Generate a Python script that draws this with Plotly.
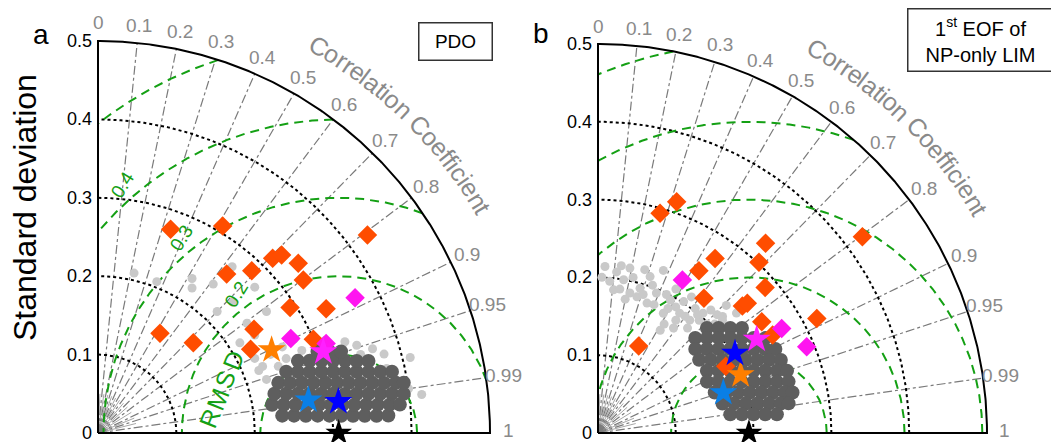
import numpy as np
import plotly.graph_objects as go

# ------------------------------------------------------------------ data
CORR_TICKS = [0, 0.1, 0.2, 0.3, 0.4, 0.5, 0.6, 0.7, 0.8, 0.9, 0.95, 0.99, 1]
CORR_TICK_TEXT = ["0", "0.1", "0.2", "0.3", "0.4", "0.5", "0.6", "0.7", "0.8",
                  "0.9", "0.95", "0.99", "1"]
CORR_LINES = [0.1, 0.2, 0.3, 0.4, 0.5, 0.6, 0.7, 0.8, 0.9, 0.95, 0.99]
CORR_MINOR = [0.05, 0.15, 0.25, 0.35, 0.45, 0.55, 0.65, 0.75, 0.85, 0.925, 0.97]
STD_TICKS = [0, 0.1, 0.2, 0.3, 0.4, 0.5]
STD_TICK_TEXT = ["0", "0.1", "0.2", "0.3", "0.4", "0.5"]
STD_CIRCLES = [0.1, 0.2, 0.3, 0.4]
STD_MAX = 0.5
RMSD_LEVELS = [0.1, 0.2, 0.3, 0.4, 0.5]
RMSD_LABELS = ["0.2", "0.3", "0.4"]
RMSD_LABEL_LEVELS = [0.2, 0.3, 0.4]

# ---- panel a (PDO)
A_REF_STD = 0.307
A_DIA_STD = [0.2758, 0.3082, 0.4264, 0.3151, 0.3262, 0.3348, 0.3265, 0.2609,
             0.2851, 0.2927, 0.3314, 0.1497, 0.1675, 0.2389, 0.2220, 0.2995]
A_DIA_CORR = [0.336, 0.516, 0.806, 0.707, 0.718, 0.763, 0.802, 0.629,
              0.688, 0.837, 0.878, 0.528, 0.726, 0.833, 0.877, 0.917]
A_MAG_STD = [0.3705, 0.2739, 0.3125]
A_MAG_CORR = [0.885, 0.898, 0.931]
# stars: orange, light blue, blue, magenta
A_STAR_STD = [0.2455, 0.2716, 0.3092, 0.3055]
A_STAR_CORR = [0.902, 0.988, 0.9916, 0.9407]
A_DARK_STD = [0.236, 0.251, 0.266, 0.281, 0.296, 0.311, 0.326, 0.341, 0.356, 0.371,
              0.2249, 0.2397, 0.2546, 0.2694, 0.2843, 0.2992, 0.3141, 0.3290, 0.3439, 0.3588, 0.3737, 0.3867,
              0.2305, 0.2452, 0.2599, 0.2746, 0.2894, 0.3041, 0.3189, 0.3338, 0.3486, 0.3635, 0.3783, 0.3932,
              0.2387, 0.2532, 0.2678, 0.2823, 0.2970, 0.3116, 0.3263, 0.3410, 0.3558, 0.3705, 0.3854, 0.3952,
              0.2524, 0.2667, 0.2810, 0.2955, 0.3100, 0.3245, 0.3391, 0.3537, 0.3684, 0.3830,
              0.2711, 0.2853, 0.2995, 0.3138, 0.3282, 0.3425, 0.3570,
              0.2987, 0.3128, 0.3270]
A_DARK_CORR = [0.9956, 0.9961, 0.9966, 0.9969, 0.9972, 0.9975, 0.9977, 0.9979, 0.9981, 0.9982,
               0.9871, 0.9886, 0.9899, 0.9910, 0.9920, 0.9928, 0.9934, 0.9940, 0.9945, 0.9949, 0.9953, 0.9956,
               0.9762, 0.9790, 0.9813, 0.9833, 0.9849, 0.9864, 0.9877, 0.9887, 0.9897, 0.9905, 0.9912, 0.9919,
               0.9634, 0.9676, 0.9710, 0.9740, 0.9765, 0.9787, 0.9806, 0.9823, 0.9837, 0.9850, 0.9861, 0.9868,
               0.9510, 0.9563, 0.9607, 0.9645, 0.9678, 0.9707, 0.9731, 0.9754, 0.9773, 0.9790,
               0.9406, 0.9465, 0.9516, 0.9560, 0.9599, 0.9634, 0.9663,
               0.9373, 0.9431, 0.9481]
A_LIGHT_STD = [0.2091, 0.2071, 0.2307, 0.2205, 0.2402, 0.2724, 0.2731, 0.2171, 0.2397,
               0.2360, 0.2144, 0.2358, 0.2650, 0.2255, 0.2265, 0.2417, 0.2595, 0.2773,
               0.2804, 0.2981, 0.3131, 0.3357, 0.3485, 0.3663, 0.3785, 0.3772, 0.4097,
               0.4001, 0.4158, 0.2581, 0.2201, 0.2452, 0.3496, 0.2214]
A_LIGHT_CORR = [0.220, 0.362, 0.520, 0.544, 0.612, 0.628, 0.732, 0.700, 0.718,
                0.805, 0.844, 0.848, 0.811, 0.953, 0.927, 0.910, 0.906, 0.902,
                0.927, 0.923, 0.926, 0.938, 0.947, 0.956, 0.964, 0.976, 0.972,
                0.990, 0.993, 0.930, 0.932, 0.938, 0.958, 0.903]

# ---- panel b (1st EOF of NP-only LIM)
B_REF_STD = 0.194
B_DIA_STD = [0.2934, 0.3140, 0.4232, 0.3254, 0.3016, 0.2702, 0.2457, 0.2849,
             0.2203, 0.2471, 0.2542, 0.3174, 0.2545, 0.2574, 0.1234, 0.1853]
B_DIA_CORR = [0.272, 0.322, 0.803, 0.662, 0.686, 0.557, 0.528, 0.754,
              0.618, 0.751, 0.755, 0.886, 0.827, 0.872, 0.424, 0.886]
B_MAG_STD = [0.2246, 0.2717, 0.2903]
B_MAG_CORR = [0.483, 0.869, 0.924]
B_STAR_STD = [0.1980, 0.1692, 0.2037, 0.2369]
B_STAR_CORR = [0.926, 0.952, 0.8645, 0.861]
B_DARK_STD = [0.1945, 0.2055, 0.2171, 0.2290,
              0.1747, 0.1857, 0.1973, 0.2093, 0.2216, 0.2343, 0.2472,
              0.1652, 0.1768, 0.1889, 0.2014, 0.2142, 0.2273, 0.2406, 0.2523,
              0.1604, 0.1728, 0.1856, 0.1986, 0.2120, 0.2255, 0.2393, 0.2531,
              0.1612, 0.1744, 0.1879, 0.2016, 0.2154, 0.2294, 0.2435, 0.2558,
              0.1548, 0.1685, 0.1824, 0.1964, 0.2106, 0.2249, 0.2393, 0.2537,
              0.1588, 0.1730, 0.1874, 0.2018, 0.2163, 0.2309, 0.2456, 0.2554,
              0.1644, 0.1791, 0.1938, 0.2085, 0.2233, 0.2380, 0.2479,
              0.1717, 0.1866, 0.2014, 0.2163, 0.2312]
B_DARK_CORR = [0.7198, 0.7541, 0.7831, 0.8078,
               0.7157, 0.7539, 0.7858, 0.8124, 0.8348, 0.8537, 0.8698,
               0.7567, 0.7918, 0.8205, 0.8441, 0.8636, 0.8799, 0.8936, 0.9037,
               0.8103, 0.8391, 0.8622, 0.8810, 0.8963, 0.9090, 0.9195, 0.9285,
               0.8683, 0.8886, 0.9048, 0.9178, 0.9285, 0.9372, 0.9445, 0.9498,
               0.9046, 0.9200, 0.9322, 0.9418, 0.9497, 0.9560, 0.9613, 0.9655,
               0.9448, 0.9537, 0.9607, 0.9663, 0.9707, 0.9743, 0.9773, 0.9790,
               0.9730, 0.9772, 0.9806, 0.9833, 0.9854, 0.9872, 0.9881,
               0.9902, 0.9917, 0.9929, 0.9938, 0.9946]
B_LIGHT_STD = [0.2142, 0.2084, 0.2159, 0.1851, 0.1997, 0.1937, 0.2119, 0.2252, 0.1846,
               0.1785, 0.1950, 0.1947, 0.1754, 0.1864, 0.2016, 0.1869, 0.2048, 0.2157,
               0.2326, 0.1662, 0.1544, 0.1820, 0.2354, 0.2030, 0.1980, 0.2103,
               0.1956, 0.2171, 0.2184, 0.2025, 0.1836, 0.2122, 0.1947, 0.2052, 0.2193,
               0.2001, 0.1871, 0.2050, 0.1872, 0.1800, 0.1986, 0.1904, 0.1872, 0.1987,
               0.2145, 0.2159, 0.1638, 0.1761, 0.1755, 0.1773]
B_LIGHT_CORR = [0.042, 0.115, 0.190, 0.108, 0.165, 0.279, 0.316, 0.373, 0.222,
                0.353, 0.385, 0.478, 0.479, 0.563, 0.546, 0.631, 0.659, 0.709,
                0.709, 0.584, 0.518, 0.275, 0.756, 0.616, 0.707, 0.476,
                0.077, 0.138, 0.275, 0.346, 0.490, 0.566, 0.668, 0.731, 0.730,
                0.025, 0.150, 0.220, 0.310, 0.400, 0.443, 0.525, 0.598, 0.644,
                0.676, 0.741, 0.519, 0.568, 0.199, 0.649]

# ------------------------------------------------------------------ style
W, H = 1051, 442
FONT = "Arial, 'Liberation Sans', Helvetica, sans-serif"
GRAY_TXT = "#8a8a8a"
GRID_GRAY = "#7a7a7a"
GREEN = "#14a014"
C_DIA = "#ff4d00"
C_MAG = "#ff14f0"
STAR_COLORS = ["#ff7f00", "#0a7fe6", "#0000ff", "#ff20ff"]
C_DARK = "#5e5e5e"
C_LIGHT = "#c9c9c9"

PANELS = [
    dict(xa="x", ya="y", px0=98, py0=433, scale=784, dom=(0, 525),
         ref=A_REF_STD, dia=(A_DIA_STD, A_DIA_CORR), mag=(A_MAG_STD, A_MAG_CORR),
         star=(A_STAR_STD, A_STAR_CORR), dark=(A_DARK_STD, A_DARK_CORR),
         light=(A_LIGHT_STD, A_LIGHT_CORR), rmsd_labels=True),
    dict(xa="x2", ya="y2", px0=598, py0=433, scale=778, dom=(525, 1051),
         ref=B_REF_STD, dia=(B_DIA_STD, B_DIA_CORR), mag=(B_MAG_STD, B_MAG_CORR),
         star=(B_STAR_STD, B_STAR_CORR), dark=(B_DARK_STD, B_DARK_CORR),
         light=(B_LIGHT_STD, B_LIGHT_CORR), rmsd_labels=False),
]


def to_xy(std, corr):
    s = np.asarray(std, float)
    c = np.asarray(corr, float)
    return s * c, s * np.sqrt(np.clip(1 - c ** 2, 0, None))


def nanlist(a):
    return [None if (v is None or (isinstance(v, float) and np.isnan(v))) else float(v) for v in a]


fig = go.Figure()
annotations = []


def add_lines(xs, ys, color, width, dash, xa, ya):
    fig.add_trace(go.Scatter(x=nanlist(xs), y=nanlist(ys), mode="lines",
                             line=dict(color=color, width=width, dash=dash),
                             hoverinfo="skip", showlegend=False, xaxis=xa, yaxis=ya,
                             cliponaxis=False))


def add_markers(std, corr, symbol, size, color, xa, ya):
    x, y = to_xy(std, corr)
    fig.add_trace(go.Scatter(x=x, y=y, mode="markers",
                             marker=dict(symbol=symbol, size=size, color=color,
                                         line=dict(width=0)),
                             hoverinfo="skip", showlegend=False, xaxis=xa, yaxis=ya,
                             cliponaxis=False))


CHAR_W = {"C": .722, "o": .556, "r": .333, "e": .556, "l": .222, "a": .556, "t": .278,
          "i": .222, "n": .556, " ": .278, "f": .278, "c": .5}

for P in PANELS:
    xa, ya = P["xa"], P["ya"]
    ref = P["ref"]

    # minor correlation ticks near origin
    xs, ys = [], []
    for c in CORR_MINOR:
        s = np.sqrt(1 - c ** 2)
        xs += [0, 0.05 * c, np.nan]
        ys += [0, 0.05 * s, np.nan]
    add_lines(xs, ys, "#a8a8a8", 1, "solid", xa, ya)
    th = np.linspace(0, np.pi / 2, 60)
    xs, ys = [], []
    for r in [0.007, 0.013]:
        xs += list(r * np.cos(th)) + [np.nan]
        ys += list(r * np.sin(th)) + [np.nan]
    add_lines(xs, ys, "#a0a0a0", 1, "solid", xa, ya)

    # correlation lines
    xs, ys = [], []
    for c in CORR_LINES:
        s = np.sqrt(1 - c ** 2)
        xs += [0, STD_MAX * c, np.nan]
        ys += [0, STD_MAX * s, np.nan]
    add_lines(xs, ys, GRID_GRAY, 1.2, "dashdot", xa, ya)

    # std circles (dotted)
    th = np.linspace(0, np.pi / 2, 300)
    xs, ys = [], []
    for r in STD_CIRCLES:
        xs += list(r * np.cos(th)) + [np.nan]
        ys += list(r * np.sin(th)) + [np.nan]
    add_lines(xs, ys, "black", 2, "dot", xa, ya)

    # RMSD circles (green dashed)
    ph = np.linspace(0, np.pi, 1500)
    xs, ys = [], []
    for R in RMSD_LEVELS:
        x = ref + R * np.cos(ph)
        y = R * np.sin(ph)
        ok = (x >= 0) & (np.hypot(x, y) <= STD_MAX)
        x = np.where(ok, x, np.nan)
        y = np.where(ok, y, np.nan)
        xs += list(x) + [np.nan]
        ys += list(y) + [np.nan]
    add_lines(xs, ys, GREEN, 2, "9px,6px", xa, ya)

    # frame: axes + outer arc
    th2 = np.linspace(np.pi / 2, 0, 300)
    fx = [0, 0] + list(STD_MAX * np.cos(th2)) + [0]
    fy = [0, STD_MAX] + list(STD_MAX * np.sin(th2)) + [0]
    add_lines(fx, fy, "black", 2, "solid", xa, ya)

    # data
    add_markers(*P["light"], "circle", 9, C_LIGHT, xa, ya)
    add_markers(*P["dark"], "circle", 14, C_DARK, xa, ya)
    add_markers(*P["dia"], "diamond", 15, C_DIA, xa, ya)
    add_markers(*P["mag"], "diamond", 15, C_MAG, xa, ya)
    sstd, scorr = P["star"]
    for k in range(len(sstd)):
        add_markers([sstd[k]], [scorr[k]], "star", 21, STAR_COLORS[k], xa, ya)
    add_markers([ref], [1.0], "star", 20, "black", xa, ya)

    # std tick labels
    for v, t in zip(STD_TICKS, STD_TICK_TEXT):
        annotations.append(dict(x=0, y=v, xref=xa, yref=ya, text=t, showarrow=False,
                                xanchor="right", yanchor="middle", xshift=-4,
                                font=dict(size=18, color="black", family=FONT)))
    # correlation tick labels
    for c, t in zip(CORR_TICKS, CORR_TICK_TEXT):
        s = np.sqrt(max(1 - c ** 2, 0))
        annotations.append(dict(x=0.523 * c, y=0.523 * s, xref=xa, yref=ya, text=t,
                                showarrow=False, xanchor="center", yanchor="middle",
                                yshift=3 if c == 1 else 0,
                                font=dict(size=19, color=GRAY_TXT, family=FONT)))
    # curved axis title
    title = "Correlation Coefficient"
    pos, acc = [], 0.0
    for ch in title:
        w = CHAR_W[ch]
        pos.append(acc + w / 2)
        acc += w
    t0, t1 = 60.3, 30.2
    for ch, p in zip(title, pos):
        if ch == " ":
            continue
        ang = t0 - (p - pos[0]) / (pos[-1] - pos[0]) * (t0 - t1)
        a = np.radians(ang)
        annotations.append(dict(x=0.568 * np.cos(a), y=0.568 * np.sin(a), xref=xa, yref=ya,
                                text=ch, showarrow=False, textangle=90 - ang,
                                xanchor="center", yanchor="middle",
                                font=dict(size=25, color=GRAY_TXT, family=FONT)))

    if P["rmsd_labels"]:
        for lab, lev, phi in zip(RMSD_LABELS, RMSD_LABEL_LEVELS, [126.5, 129, 131]):
            r = lev + 0.02
            annotations.append(dict(x=ref + r * np.cos(np.radians(phi)),
                                    y=r * np.sin(np.radians(phi)), xref=xa, yref=ya,
                                    text=lab, showarrow=False, textangle=-58,
                                    xanchor="center", yanchor="middle",
                                    font=dict(size=19, color=GREEN, family=FONT)))
        letters = "RMSD"
        p0 = np.array([0.1429, 0.0188])
        p1 = np.array([0.1726, 0.0931])
        for i, ch in enumerate(letters):
            p = p0 + (p1 - p0) * i / 3
            annotations.append(dict(x=p[0], y=p[1], xref=xa, yref=ya, text=ch,
                                    showarrow=False, textangle=-68,
                                    xanchor="center", yanchor="middle",
                                    font=dict(size=25, color=GREEN, family=FONT)))


def paper(px, py):
    return px / W, 1 - py / H


def ann_paper(px, py, text, size, **kw):
    x, y = paper(px, py)
    d = dict(x=x, y=y, xref="paper", yref="paper", text=text, showarrow=False,
             xanchor="center", yanchor="middle",
             font=dict(size=size, color="black", family=FONT))
    d.update(kw)
    annotations.append(d)


ann_paper(25, 208, "Standard deviation", 32, textangle=-90)
ann_paper(41, 35, "a", 28)
ann_paper(541, 34, "b", 28)
ann_paper(455, 41, "PDO", 19, bordercolor="#333333", borderwidth=1.5, borderpad=0,
          width=72, height=36, bgcolor="white")
ann_paper(980, 40, "1<sup>st</sup> EOF of<br>NP-only LIM", 20, bordercolor="#333333",
          borderwidth=1.5, borderpad=0, width=144, height=61, bgcolor="white")

layout_axes = {}
for i, P in enumerate(PANELS):
    sfx = "" if i == 0 else "2"
    d0, d1 = P["dom"]
    xr = [-(P["px0"] - d0) / P["scale"], (d1 - P["px0"]) / P["scale"]]
    yr = [-(H - P["py0"]) / P["scale"], P["py0"] / P["scale"]]
    layout_axes["xaxis" + sfx] = dict(domain=[d0 / W, d1 / W], range=xr, visible=False,
                                      fixedrange=True, anchor="y" + sfx)
    layout_axes["yaxis" + sfx] = dict(domain=[0, 1], range=yr, visible=False,
                                      fixedrange=True, anchor="x" + sfx)

fig.update_layout(width=W, height=H, margin=dict(l=0, r=0, t=0, b=0),
                  paper_bgcolor="white", plot_bgcolor="rgba(0,0,0,0)",
                  showlegend=False, annotations=annotations, font=dict(family=FONT),
                  **layout_axes)

fig.write_html("out.html", config={"displayModeBar": False},
               post_script="document.body.style.margin='0';document.body.style.overflow='hidden';")
